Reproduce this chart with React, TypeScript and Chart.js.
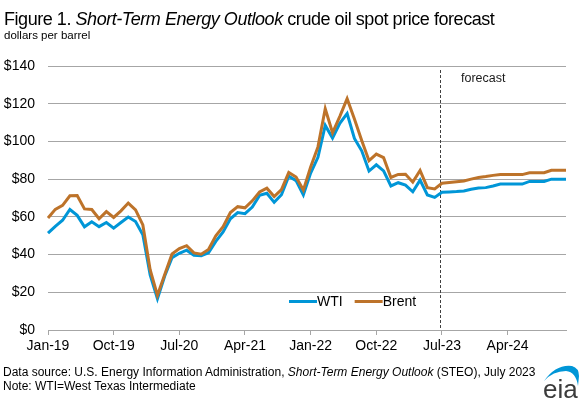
import React, { useEffect, useRef } from "react";
import { Chart, registerables } from "chart.js";

Chart.register(...registerables);

const categories = [
  "Jan-19","Feb-19","Mar-19","Apr-19","May-19","Jun-19","Jul-19","Aug-19","Sep-19","Oct-19","Nov-19","Dec-19",
  "Jan-20","Feb-20","Mar-20","Apr-20","May-20","Jun-20","Jul-20","Aug-20","Sep-20","Oct-20","Nov-20","Dec-20",
  "Jan-21","Feb-21","Mar-21","Apr-21","May-21","Jun-21","Jul-21","Aug-21","Sep-21","Oct-21","Nov-21","Dec-21",
  "Jan-22","Feb-22","Mar-22","Apr-22","May-22","Jun-22","Jul-22","Aug-22","Sep-22","Oct-22","Nov-22","Dec-22",
  "Jan-23","Feb-23","Mar-23","Apr-23","May-23","Jun-23","Jul-23","Aug-23","Sep-23","Oct-23","Nov-23","Dec-23",
  "Jan-24","Feb-24","Mar-24","Apr-24","May-24","Jun-24","Jul-24","Aug-24","Sep-24","Oct-24","Nov-24","Dec-24",
];

const wti = [
  51.4, 55.0, 58.2, 63.9, 60.8, 54.7, 57.4, 54.8, 57.0, 54.0, 57.0, 59.9,
  57.5, 50.5, 29.2, 16.6, 28.6, 38.3, 40.7, 42.3, 39.6, 39.4, 40.9, 47.0,
  52.0, 59.0, 62.3, 61.7, 65.2, 71.4, 72.5, 67.7, 71.7, 81.5, 79.2, 71.7,
  83.2, 91.6, 108.5, 101.8, 109.6, 114.8, 101.6, 95.0, 84.3, 87.6, 84.4, 76.4,
  78.1, 76.8, 73.3, 79.5, 71.6, 70.3, 73.0, 73.2, 73.4, 73.7, 74.6, 75.3,
  75.5, 76.4, 77.4, 77.4, 77.4, 77.4, 78.8, 78.8, 78.8, 80.0, 80.0, 80.0,
];

const brent = [
  59.4, 64.0, 66.1, 71.2, 71.3, 64.2, 63.9, 59.0, 62.8, 59.7, 63.2, 67.3,
  63.7, 55.7, 32.0, 18.4, 29.4, 40.3, 43.2, 44.7, 40.9, 40.2, 42.7, 50.0,
  54.8, 62.3, 65.4, 64.8, 68.5, 73.2, 75.2, 70.8, 74.5, 83.5, 81.1, 74.2,
  86.5, 97.1, 117.3, 104.6, 113.3, 122.7, 111.9, 100.5, 89.8, 93.3, 91.4, 80.9,
  82.5, 82.6, 78.4, 84.6, 75.5, 74.8, 77.8, 78.2, 78.6, 79.0, 80.0, 80.9,
  81.4, 82.0, 82.4, 82.4, 82.4, 82.4, 83.4, 83.4, 83.4, 84.7, 84.7, 84.7,
];

const seriesNames = ["WTI", "Brent"];
const seriesColors = ["#0096D7", "#BD732A"];
const yTicks = [0, 20, 40, 60, 80, 100, 120, 140];
const labelEvery = 9;
const forecastStart = "Jul-23";
const forecastLabel = "forecast";

const FONT = "'Liberation Sans', Arial, sans-serif";

const overlayPlugin = {
  id: "overlay",
  beforeDatasetsDraw(chart: any) {
    const { ctx, chartArea, scales } = chart;
    const x = scales.x.getPixelForValue(categories.indexOf(forecastStart)) - 2;
    ctx.save();
    ctx.strokeStyle = "#404040";
    ctx.lineWidth = 1;
    ctx.setLineDash([3, 2]);
    ctx.beginPath();
    ctx.moveTo(Math.round(x) + 0.5, chartArea.top + 4);
    ctx.lineTo(Math.round(x) + 0.5, chartArea.bottom);
    ctx.stroke();
    ctx.restore();
  },
  afterDatasetsDraw(chart: any) {
    const { ctx, chartArea, scales } = chart;
    const x = scales.x.getPixelForValue(categories.indexOf(forecastStart));
    ctx.save();
    ctx.fillStyle = "#1a1a1a";
    ctx.font = `12.5px ${FONT}`;
    ctx.textBaseline = "middle";
    ctx.textAlign = "left";
    ctx.fillText(forecastLabel, x + 19, chartArea.top + 13);

    // legend
    const ly = chartArea.bottom - 28.5;
    let lx = 289;
    ctx.font = `14px ${FONT}`;
    seriesNames.forEach((name, i) => {
      ctx.strokeStyle = seriesColors[i];
      ctx.lineWidth = 3;
      ctx.beginPath();
      ctx.moveTo(lx, ly);
      ctx.lineTo(lx + 28, ly);
      ctx.stroke();
      ctx.fillStyle = "#000";
      ctx.fillText(name, lx + 28, ly + 0.5);
      lx += 28 + ctx.measureText(name).width + 12;
    });
    ctx.restore();
  },
};

export default function App() {
  const canvasRef = useRef<HTMLCanvasElement | null>(null);

  useEffect(() => {
    if (!canvasRef.current) return;
    const chart = new Chart(canvasRef.current, {
      type: "line",
      data: {
        labels: categories,
        datasets: [
          {
            label: seriesNames[0],
            data: wti,
            borderColor: seriesColors[0],
            backgroundColor: seriesColors[0],
            borderWidth: 3,
            pointRadius: 0,
            tension: 0,
            order: 2,
          },
          {
            label: seriesNames[1],
            data: brent,
            borderColor: seriesColors[1],
            backgroundColor: seriesColors[1],
            borderWidth: 3,
            pointRadius: 0,
            tension: 0,
            order: 1,
          },
        ],
      },
      options: {
        responsive: false,
        animation: false,
        layout: { padding: { top: 66, right: 13, left: 0, bottom: 0 } },
        plugins: {
          legend: { display: false },
          title: { display: false },
          tooltip: { enabled: false },
        },
        scales: {
          x: {
            type: "category",
            offset: false,
            afterFit(scale: any) {
              scale.height = 69;
            },
            border: { display: true, color: "#A6A6A6", width: 1 },
            grid: {
              drawOnChartArea: false,
              drawTicks: true,
              tickLength: 5,
              color: (ctx: any) => (ctx.index % labelEvery === 0 ? "#A6A6A6" : "rgba(0,0,0,0)"),
            },
            ticks: {
              autoSkip: false,
              maxRotation: 0,
              minRotation: 0,
              padding: 3,
              color: "#000",
              font: { family: FONT, size: 14 },
              callback: (_v: any, i: number) => (i % labelEvery === 0 ? categories[i] : ""),
            },
          },
          y: {
            min: yTicks[0],
            max: yTicks[yTicks.length - 1],
            afterFit(scale: any) {
              scale.width = 48;
            },
            afterBuildTicks(scale: any) {
              scale.ticks = yTicks.map((v) => ({ value: v }));
            },
            border: { display: false },
            grid: {
              color: "#A6A6A6",
              lineWidth: 1,
              drawTicks: false,
            },
            ticks: {
              padding: 13,
              color: "#000",
              font: { family: FONT, size: 14 },
              callback: (v: any) => "$" + v,
            },
          },
        },
      },
      plugins: [overlayPlugin],
    });
    return () => chart.destroy();
  }, []);

  return (
    <div
      style={{
        position: "absolute",
        left: 0,
        top: 0,
        width: 579,
        height: 399,
        background: "#fff",
        fontFamily: FONT,
        color: "#000",
        overflow: "hidden",
      }}
    >
      <canvas ref={canvasRef} width={579} height={399} style={{ position: "absolute", left: 0, top: 0 }} />
      <div
        style={{
          position: "absolute",
          left: 4,
          top: 10,
          fontSize: 18,
          lineHeight: "18px",
          letterSpacing: "-0.45px",
          whiteSpace: "nowrap",
        }}
      >
        Figure 1. <i>Short-Term Energy Outlook</i> crude oil spot price forecast
      </div>
      <div style={{ position: "absolute", left: 4, top: 29, fontSize: 11.5, lineHeight: "12px", whiteSpace: "nowrap" }}>
        dollars per barrel
      </div>
      <div style={{ position: "absolute", left: 3, top: 365, fontSize: 12, lineHeight: "14px", whiteSpace: "nowrap" }}>
        <div>
          Data source: U.S. Energy Information Administration, <i>Short-Term Energy Outlook</i> (STEO), July 2023
        </div>
        <div>Note: WTI=West Texas Intermediate</div>
      </div>
      <svg width={579} height={399} style={{ position: "absolute", left: 0, top: 0, pointerEvents: "none" }}>
        <path d="M544,381 Q556,364 572,366 Q579,368 579,376 L578,386 Q576,372 566,371 Q553,371 544,381 Z" fill="#0096D7" />
        <text x={543} y={398} fontFamily={FONT} fontSize={26} fill="#3b3b3b">
          eia
        </text>
      </svg>
    </div>
  );
}
